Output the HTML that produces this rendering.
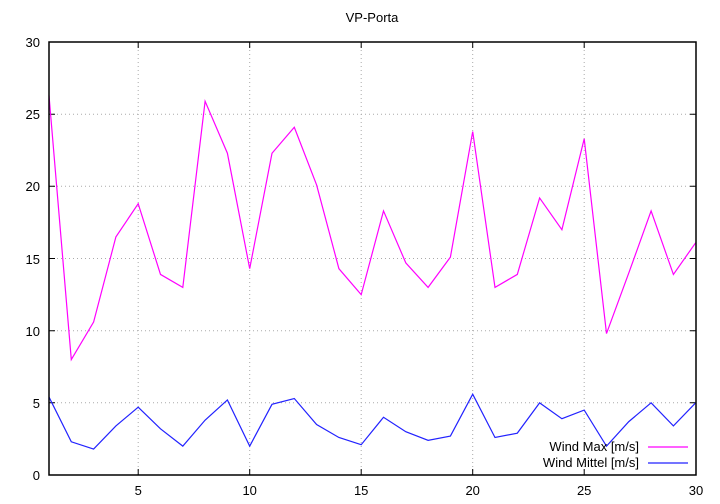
<!DOCTYPE html>
<html><head><style>body{margin:0;background:#fff}svg{display:block;font-family:"Liberation Sans",sans-serif;font-size:13px}</style></head>
<body>
<svg width="720" height="504" viewBox="0 0 720 504">
<rect width="720" height="504" fill="#fff"/>
<text x="372" y="22" text-anchor="middle" font-size="13">VP-Porta</text>
<g stroke="#aaa" stroke-width="1" stroke-dasharray="1,3">
<line x1="138.2" y1="42" x2="138.2" y2="475"/><line x1="249.7" y1="42" x2="249.7" y2="475"/><line x1="361.2" y1="42" x2="361.2" y2="475"/><line x1="472.7" y1="42" x2="472.7" y2="475"/><line x1="584.2" y1="42" x2="584.2" y2="475"/>
<line x1="49" y1="402.8" x2="696" y2="402.8"/><line x1="49" y1="330.7" x2="696" y2="330.7"/><line x1="49" y1="258.5" x2="696" y2="258.5"/><line x1="49" y1="186.3" x2="696" y2="186.3"/><line x1="49" y1="114.2" x2="696" y2="114.2"/>
</g>
<g stroke="#000" stroke-width="1">
<path d="M138.2,475v-6M249.7,475v-6M361.2,475v-6M472.7,475v-6M584.2,475v-6M138.2,42v6M249.7,42v6M361.2,42v6M472.7,42v6M584.2,42v6"/>
<path d="M49,402.8h6M49,330.7h6M49,258.5h6M49,186.3h6M49,114.2h6M696,402.8h-6M696,330.7h-6M696,258.5h-6M696,186.3h-6M696,114.2h-6"/>
</g>
<g fill="#000" font-size="13">
<text x="40" y="480" text-anchor="end">0</text><text x="40" y="408" text-anchor="end">5</text><text x="40" y="336" text-anchor="end">10</text><text x="40" y="264" text-anchor="end">15</text><text x="40" y="191" text-anchor="end">20</text><text x="40" y="119" text-anchor="end">25</text><text x="40" y="47" text-anchor="end">30</text>
<text x="138.2" y="495" text-anchor="middle">5</text><text x="249.7" y="495" text-anchor="middle">10</text><text x="361.2" y="495" text-anchor="middle">15</text><text x="472.7" y="495" text-anchor="middle">20</text><text x="584.2" y="495" text-anchor="middle">25</text><text x="696" y="495" text-anchor="middle">30</text>
</g>
<g transform="translate(49,475) scale(22.3,-14.43) translate(-1,0)" fill="none" stroke-width="1.2">
<polyline vector-effect="non-scaling-stroke" stroke="#ff00ff" points="1,26.3 2,8 3,10.6 4,16.5 5,18.8 6,13.9 7,13 8,25.9 9,22.3 10,14.3 11,22.3 12,24.1 13,20.1 14,14.3 15,12.5 16,18.3 17,14.7 18,13 19,15.1 20,23.8 21,13 22,13.9 23,19.2 24,17 25,23.3 26,9.8 27,14 28,18.3 29,13.9 30,16.1"/>
<polyline vector-effect="non-scaling-stroke" stroke="#2222ff" points="1,5.4 2,2.3 3,1.8 4,3.4 5,4.7 6,3.2 7,2 8,3.8 9,5.2 10,2 11,4.9 12,5.3 13,3.5 14,2.6 15,2.1 16,4 17,3 18,2.4 19,2.7 20,5.6 21,2.6 22,2.9 23,5 24,3.9 25,4.5 26,2 27,3.7 28,5 29,3.4 30,5"/>
</g>
<text x="639" y="451" text-anchor="end">Wind Max [m/s]</text>
<text x="639" y="467" text-anchor="end">Wind Mittel [m/s]</text>
<line x1="648" y1="447" x2="688" y2="447" stroke="#ff00ff" stroke-width="1.2"/>
<line x1="648" y1="463" x2="688" y2="463" stroke="#2222ff" stroke-width="1.2"/>
<rect x="49" y="42" width="647" height="433" fill="none" stroke="#000" stroke-width="1.5"/>
</svg>
</body></html>
